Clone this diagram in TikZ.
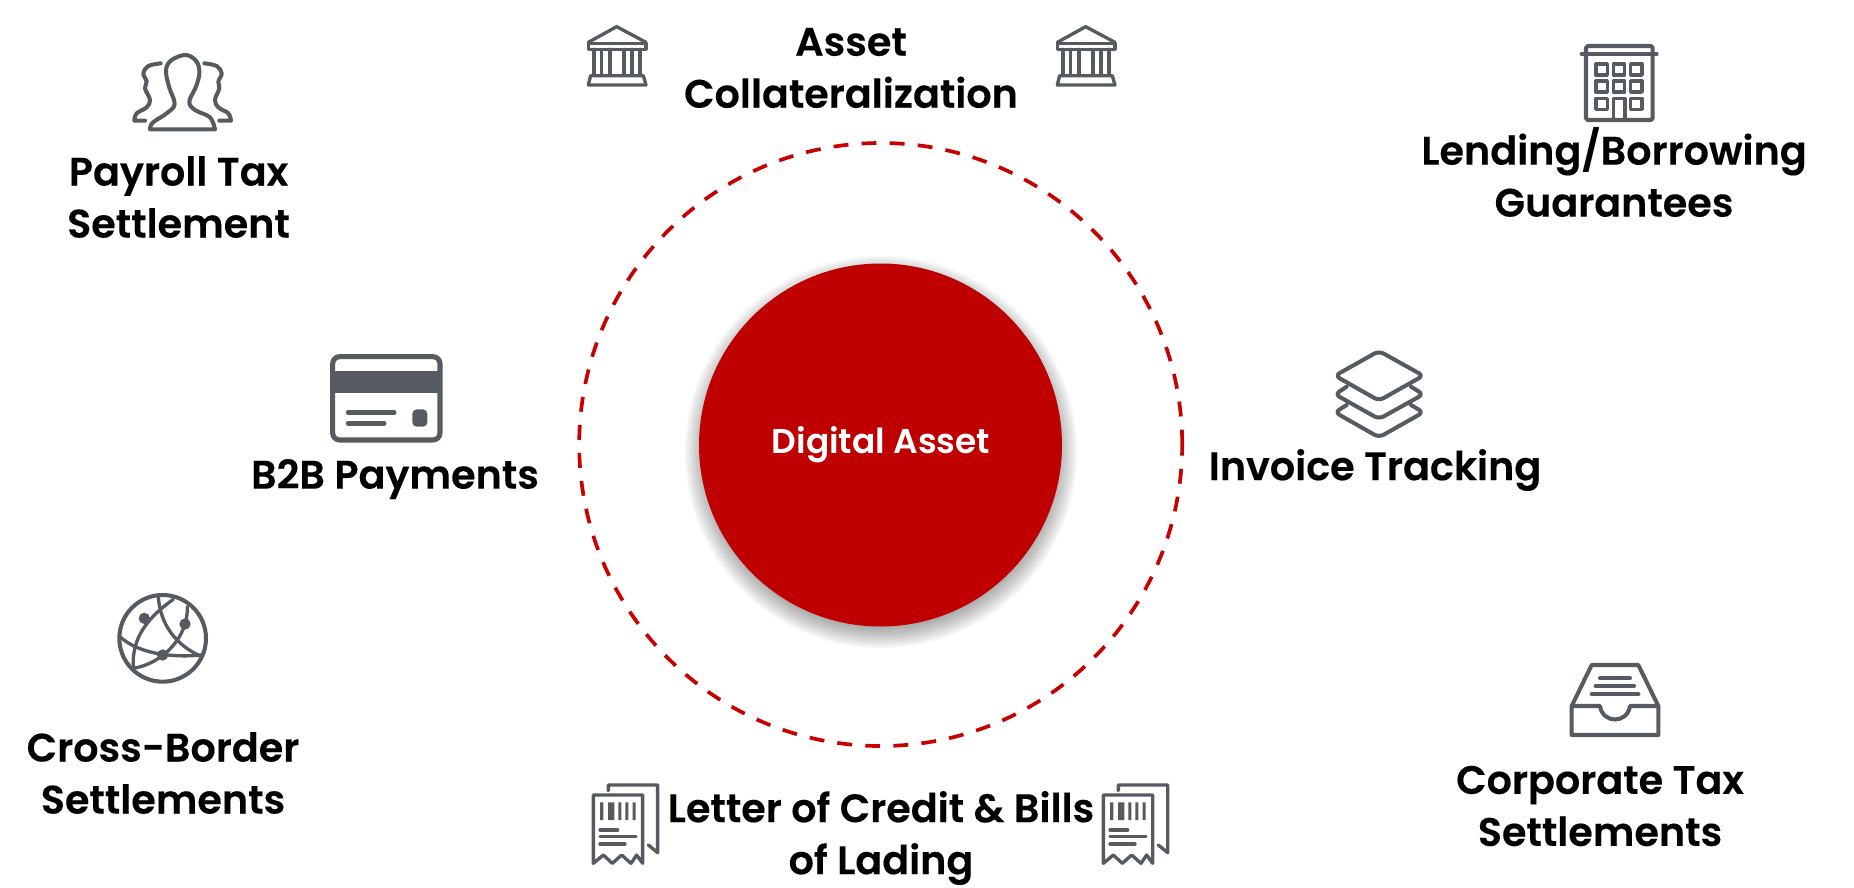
\documentclass[tikz,border=0pt]{standalone}
\usepackage{fontspec}
\setmainfont{Poppins SemiBold}[FakeBold=0.25]
\newfontfamily\corefont{Poppins SemiBold}
\definecolor{icongray}{HTML}{565B61}
\definecolor{brandred}{HTML}{BE0000}
\definecolor{ringred}{HTML}{C80000}
\tikzset{
  x=0.02cm,y=-0.02cm,
  lab/.style={font=\fontsize{22.6}{29.6}\selectfont,text=black,inner sep=0pt,align=center},
  ic/.style={draw=icongray,line width=2.3pt,line join=round,line cap=round},
  icthin/.style={draw=icongray,line width=1.9pt,line join=round,line cap=round},
  zoomed/.style={shift={#1},x=0.02cm/3,y=-0.02cm/3},
}
\newcommand{\bankicon}[1]{%
  \begin{scope}[zoomed={#1}]
    \draw[icthin] (55,97) -- (140,50) -- (228,97);
    \draw[icthin] (55,100) rectangle (228,118);
    \foreach \cx in {72,95,120,162,186,210} \draw[icthin] (\cx,118) -- (\cx,195);
    \draw[icthin] (62,197) -- (220,197) -- (228,225) -- (55,225) -- cycle;
  \end{scope}}
\newcommand{\receipticon}[1]{%
  \begin{scope}[zoomed={#1}]
    \draw[icthin] (40,280) -- (40,75) -- (188,75) -- (188,280) -- (170,255) -- (153,280) -- (125,255) -- (97,280) -- (70,255) -- cycle;
    \draw[icthin] (85,62) -- (85,45) -- (233,45) -- (233,248) -- (205,225);
    \fill[icongray] (60,97) rectangle (70,150) (84,97) rectangle (103,150) (115,97) rectangle (124,150) (136,97) rectangle (145,150) (158,97) rectangle (167,150);
    \draw[icthin] (60,180) -- (113,180) (60,200) -- (168,200) (60,222) -- (135,222);
  \end{scope}}
\begin{document}
\begin{tikzpicture}
\useasboundingbox (0,0) rectangle (1854,887);
% shadow
\foreach \rr in {196,194,...,176}
  \fill[black,opacity=0.035] (881,452) circle[radius=\rr];
\node[circle,fill=brandred,minimum size=363*0.02cm,inner sep=0pt] (core) at (880.5,445) {};
\node[font=\corefont\fontsize{19.6}{24}\selectfont,text=white,inner sep=0pt] (coretext) at (881,445) {Digital Asset};
\node[circle,draw=ringred,line width=2.1pt,dash pattern=on 8.5pt off 7.5pt,minimum size=603*0.02cm,inner sep=0pt] (ring) at (880.7,444.5) {};

\node[lab] (payroll) at (178.5,197) {Payroll Tax\\Settlement};
\node[lab] (asset) at (851,68) {Asset\\Collateralization};
\node[lab] (lending) at (1614,172) {Lending/Borrowing\\Guarantees};
\node[lab] (b2b) at (395,479) {B2B Payments};
\node[lab] (invoice) at (1375,470) {Invoice Tracking};
\node[lab] (cross) at (163,773) {Cross-Border\\Settlements};
\node[lab] (letter) at (881,838) {Letter of Credit \& Bills\\of Lading};
\node[lab] (corp) at (1600,806) {Corporate Tax\\Settlements};

% people
\begin{scope}[zoomed={(100,30)}]
  \draw[ic] (150,298) plot[smooth,tension=0.6] coordinates {(150,298) (158,278) (200,250) (224,222) (207,170) (198,120) (215,90) (258,75) (290,95) (298,130) (288,170) (268,215) (285,240) (330,262) (345,298)} -- cycle;
  \draw[ic] plot[smooth,tension=0.6] coordinates {(182,100) (145,108) (130,130) (140,155) (135,175) (150,210) (140,232) (110,250) (103,272)} -- (135,272);
  \draw[ic] plot[smooth,tension=0.6] coordinates {(313,100) (350,108) (365,130) (355,155) (358,175) (345,210) (355,232) (385,250) (393,272)} -- (358,272);
\end{scope}
% banks
\bankicon{(570,10)}
\bankicon{(1039,10)}
% building
\begin{scope}[zoomed={(1560,30)}]
  \draw[ic,rounded corners=1pt] (78,72) -- (78,48) -- (278,48) -- (278,72);
  \draw[ic] (65,72) -- (290,72);
  \draw[ic,rounded corners=1pt] (78,72) -- (78,270) -- (278,270) -- (278,72);
  \foreach \wx in {108,160,212} \foreach \wy in {102,153} \draw[icthin] (\wx,\wy) rectangle +(34,33);
  \draw[icthin] (108,205) rectangle +(34,33);
  \draw[icthin] (212,205) rectangle +(34,33);
  \draw[icthin] (160,270) -- (160,205) -- (195,205) -- (195,270);
\end{scope}
% card
\begin{scope}[zoomed={(310,340)}]
  \draw[draw=icongray,line width=2.9pt,rounded corners=4pt] (68,50) rectangle (390,300);
  \fill[icongray] (68,92) rectangle (390,158);
  \draw[ic,line width=2.9pt] (115,217) -- (252,217) (115,250) -- (222,250);
  \fill[icongray,rounded corners=2.5pt] (307,208) rectangle (352,260);
\end{scope}
% layers
\begin{scope}[zoomed={(1310,335)}]
  \draw[ic,rounded corners=3pt] (207,48) -- (340,122) -- (207,197) -- (75,122) -- cycle;
  \draw[ic,rounded corners=3pt] (110,155) -- (75,178) -- (207,252) -- (340,178) -- (303,155);
  \draw[ic,rounded corners=3pt] (110,210) -- (75,232) -- (207,307) -- (340,232) -- (303,210);
\end{scope}
% globe
\begin{scope}[zoomed={(100,580)}]
  \draw[ic] (188,175) circle[radius=130];
  \draw[icthin] (62,172) .. controls (110,215) and (200,235) .. (305,225);
  \draw[icthin] (100,265) .. controls (95,190) and (125,125) .. (220,58);
  \draw[icthin] (100,265) .. controls (190,250) and (265,170) .. (262,80);
  \draw[icthin] (175,50) .. controls (180,130) and (225,195) .. (305,230);
  \fill[icongray] (133,115) circle[radius=17] (255,132) circle[radius=17] (188,225) circle[radius=17];
\end{scope}
% inbox
\begin{scope}[zoomed={(1550,650)}]
  \draw[ic] (65,168) -- (125,45) -- (265,45) -- (325,168);
  \draw[ic] (65,168) -- (65,255) -- (325,255) -- (325,168) -- (240,168) .. controls (232,222) and (158,222) .. (150,168) -- cycle;
  \draw[ic] (150,85) -- (240,85) (137,108) -- (252,108) (125,132) -- (265,132);
\end{scope}
% receipts
\receipticon{(580,770)}
\receipticon{(1090,770)}
\end{tikzpicture}
\end{document}
